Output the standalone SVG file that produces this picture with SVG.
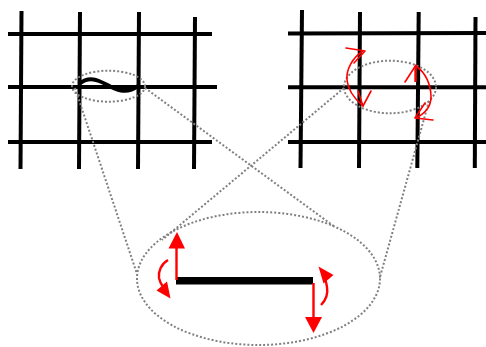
<svg xmlns="http://www.w3.org/2000/svg" width="486" height="347" viewBox="0 0 486 347">
<style>
.g{stroke:#000;stroke-width:4;fill:none;stroke-linecap:butt}
.d{stroke:#808080;stroke-width:2;fill:none;stroke-dasharray:2 2}
.r{stroke:#ff0000;stroke-width:1.6;fill:none;stroke-linecap:round;stroke-linejoin:round}
.rt{stroke:#ff0000;stroke-width:2.4;fill:none}
.rf{fill:#ff0000;stroke:none}
</style>
<rect width="486" height="347" fill="#fff"/>
<g id="grid-left">
<line class="g" x1="8" y1="34" x2="212" y2="34"/>
<line class="g" x1="8" y1="87" x2="217" y2="87"/>
<line class="g" x1="8" y1="142" x2="212" y2="142"/>
<line class="g" x1="21.5" y1="11" x2="20.5" y2="169"/>
<line class="g" x1="80" y1="12" x2="79" y2="169"/>
<line class="g" x1="139" y1="12" x2="138" y2="169"/>
<line class="g" x1="195" y1="17" x2="194" y2="169"/>
<path class="g" d="M79,84 C85,79 92,78 99,81 C107,84 112,89 121,90.5 C129,92 134,89 138,86"/>
</g>
<g id="grid-right">
<line class="g" x1="288" y1="33.5" x2="486" y2="33"/>
<line class="g" x1="288" y1="87.3" x2="486" y2="87.3"/>
<line class="g" x1="288" y1="142" x2="486" y2="142"/>
<line class="g" x1="302" y1="10" x2="300.5" y2="168"/>
<line class="g" x1="360" y1="12" x2="359" y2="168"/>
<line class="g" x1="418.7" y1="12" x2="417.3" y2="168"/>
<line class="g" x1="475.5" y1="17" x2="474.8" y2="168"/>
</g>
<g id="zoom-regions">
<ellipse id="zoom-left" class="d" cx="108.5" cy="86.2" rx="36.5" ry="15.5"/>
<ellipse id="zoom-right" class="d" cx="390" cy="87" rx="46" ry="26.3"/>
<ellipse id="zoom-big" class="d" cx="258.5" cy="278.5" rx="121.5" ry="66.5"/>
</g>
<g id="connectors">
<line class="d" x1="75" y1="88" x2="137" y2="274"/>
<line class="d" x1="145" y1="88" x2="335" y2="227"/>
<line class="d" x1="344" y1="88" x2="162" y2="240"/>
<line class="d" x1="429" y1="101" x2="380" y2="277"/>
</g>
<g id="rotation-arrows-grid">
<path class="r" d="M363,51 C352,58 346,70 347,80 C348,92 356,100 363,106"/>
<path class="r" d="M346,48 L365,51 L354,63"/>
<path class="r" d="M358,91 L363,106 L371,91"/>
<path class="r" d="M416,66 C426,73 431,85 431,97 C431,107 424,114 416,118"/>
<path class="r" d="M405,82 L416,65"/>
<line class="rt" x1="415.5" y1="66" x2="415.5" y2="82"/>
<path class="r" d="M425,103 L415,118 L433,120"/>
</g>
<g id="detail">
<line x1="176" y1="280.7" x2="313" y2="280.7" stroke="#000" stroke-width="7.5"/>
<line class="rt" x1="176.5" y1="246" x2="176.5" y2="280"/>
<polygon class="rf" points="177,232 168.5,248.5 185,248.5"/>
<line class="rt" x1="313.5" y1="283" x2="313.5" y2="318"/>
<polygon class="rf" points="305,317 322,317 313.5,333"/>
<path class="rt" d="M168,260 C161,264 158,272 159,278 C160,282 161,284 162.5,286"/>
<polygon class="rf" points="156.5,290.5 167,281.5 170.5,298.5"/>
<path class="rt" d="M321,305 C326,300 328,293 327,287 C326.5,284 326,282 325.5,280"/>
<polygon class="rf" points="318.5,266.5 333.5,275 323.5,283.5"/>
</g>
</svg>
